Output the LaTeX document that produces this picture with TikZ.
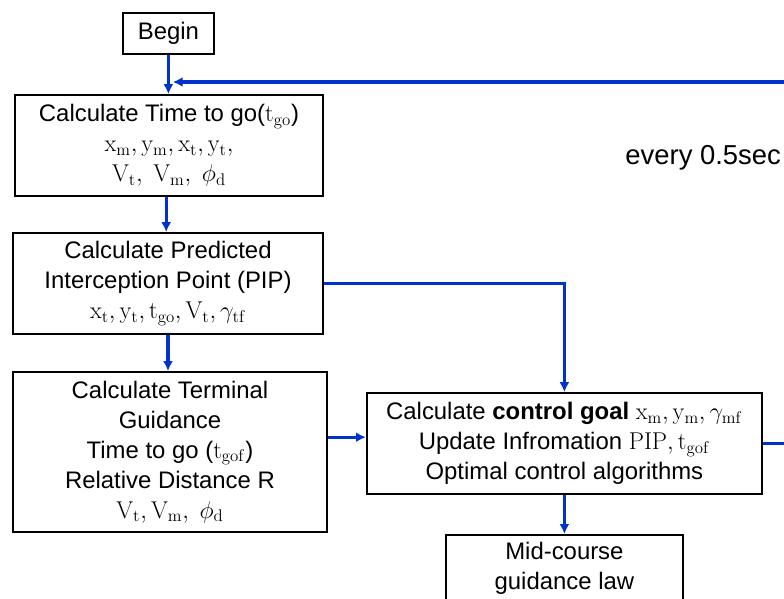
\documentclass[tikz,border=0pt]{standalone}
\usepackage[no-math]{fontspec}
\setmainfont{Liberation Sans}
\usetikzlibrary{arrows.meta}
\definecolor{flowblue}{RGB}{0,51,204}

\begin{document}
\begin{tikzpicture}[
	box/.style={draw, line width=1.3pt, align=center, inner sep=2pt, font=\fontsize{17}{21.3}\selectfont},
	flow/.style={draw=flowblue, line width=2.2pt, ->, >={Latex[length=7pt,width=7pt]}}]
	\useasboundingbox (0,0) rectangle (19.6,14.95);
	\clip (0,0) rectangle (19.6,14.95);%picture is cut at the edges

	\node[box, minimum width=2.28cm, minimum height=1.03cm] (begin) at (4.21,14.11) {Begin};
	\node[box, minimum width=7.7cm, minimum height=2.53cm] (tgo) at (4.225,11.31)
		{Calculate Time to go($\mathrm{t_{go}}$)\\ $\mathrm{x_m,y_m,x_t,y_t,}$\\ $\mathrm{V_t},\ \mathrm{V_m},\ \phi_{\mathrm{d}}$};
	\node[box, minimum width=7.75cm, minimum height=2.53cm] (pip) at (4.2,7.86)
		{Calculate Predicted\\ Interception Point (PIP)\\ $\mathrm{x_t,y_t,t_{go},V_t},\gamma_{\mathrm{tf}}$};
	\node[box, minimum width=7.85cm, minimum height=4cm] (term) at (4.25,3.65)
		{Calculate Terminal\\ Guidance\\ Time to go ($\mathrm{t_{gof}}$)\\ Relative Distance R\\ $\mathrm{V_t,V_m},\ \phi_{\mathrm{d}}$};
	\node[box, minimum width=9.88cm, minimum height=2.53cm] (goal) at (14.11,3.86)
		{Calculate \textbf{control goal} $\mathrm{x_m,y_m},\gamma_{\mathrm{mf}}$\\ Update Infromation $\mathrm{PIP,t_{gof}}$\\ Optimal control algorithms};
	\node[box, minimum width=5.93cm, minimum height=1.675cm] (mid) at (14.11,0.74) {Mid-course\\ guidance law};
	\node[font=\fontsize{19.5}{23}\selectfont] (period) at (17.58,11.0) {every 0.5sec};

	\coordinate (loopin) at (4.32,12.9);%loop comes back here
	\coordinate (goalin) at ([yshift=0.16cm]goal.west);

	\draw[flow] (begin.south) -- (begin.south |- tgo.north);
	\draw[flow] ([xshift=-2pt]tgo.south) -- ([xshift=-2pt]tgo.south |- pip.north);
	\draw[flow] (pip.south) -- (pip.south |- term.north);
	\draw[flow] (pip.east) -| (goal.north);
	\draw[flow] (term.east |- goalin) -- (goalin);
	\draw[flow] (goal.south) -- (mid.north);
	\draw[flow] (goal.east) -- ++(1.5,0) |- (loopin);%every 0.5sec loop
\end{tikzpicture}
\end{document}
